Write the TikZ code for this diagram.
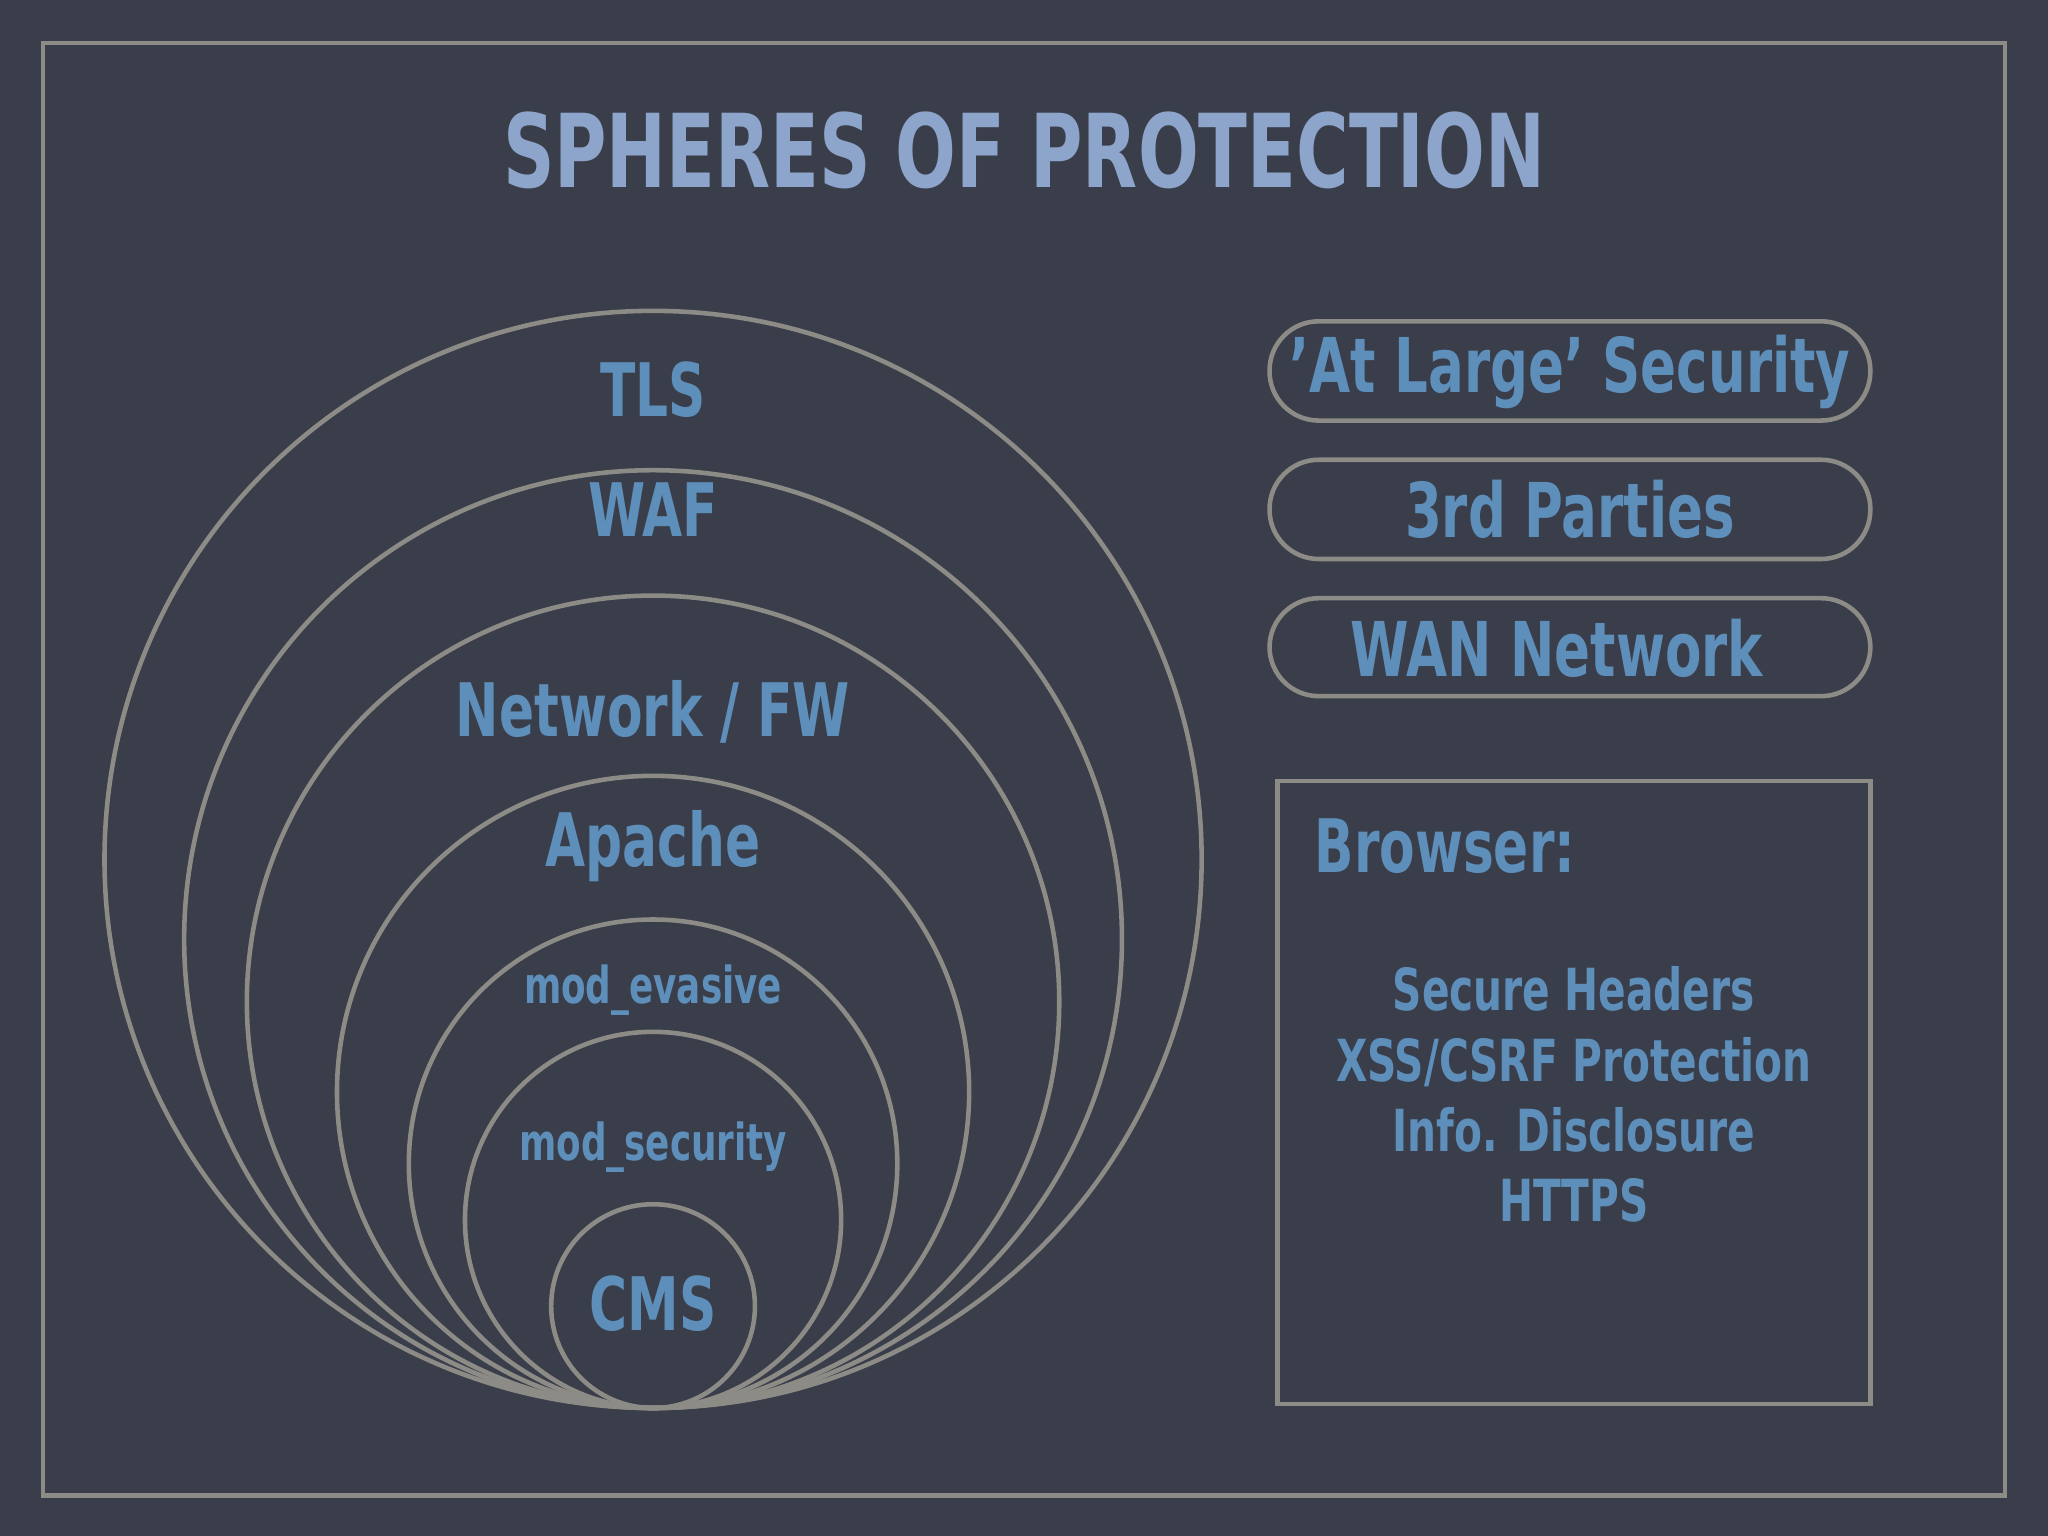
\documentclass[tikz,border=0pt]{standalone}
\usepackage{fontspec}
\setmainfont{DejaVu Sans Condensed}[FakeStretch=0.78]
\begin{document}
\begin{tikzpicture}[x=0.01306cm,y=-0.01306cm,
  ring/.style={draw=linegray,line width=1.3pt},
  lbl/.style={text=lblue,font=\bfseries},
  pill/.style={draw=linegray,line width=1.3pt,rounded corners=14pt}]
\definecolor{bg}{HTML}{3A3D4A}
\definecolor{linegray}{HTML}{8C8B86}
\definecolor{lblue}{HTML}{5E8FBA}
\definecolor{tblue}{HTML}{8DA5CB}
\fill[bg] (0,0) rectangle (1568,1176);
\useasboundingbox (0,0) rectangle (1568,1176);
\draw[ring] (33,33) rectangle (1535,1145);
\node[text=tblue,font=\bfseries\fontsize{29}{32}\selectfont] (title) at (784,115) {SPHERES OF PROTECTION};
\foreach \r/\n in {420/c1,359/c2,311/c3,242/c4,187/c5,144/c6,78/c7}
  \draw[ring] (500,1078-\r) circle (\r);
\node[lbl,font=\bfseries\fontsize{21}{24}\selectfont] (tls) at (500,298) {TLS};
\node[lbl,font=\bfseries\fontsize{21}{24}\selectfont] (waf) at (500,390) {WAF};
\node[lbl,font=\bfseries\fontsize{21}{24}\selectfont] (net) at (500,545) {Network / FW};
\node[lbl,font=\bfseries\fontsize{21}{24}\selectfont] (ap) at (500,648) {Apache};
\node[lbl,font=\bfseries\fontsize{14.5}{17}\selectfont] (ev) at (500,758) {mod\_evasive};
\node[lbl,font=\bfseries\fontsize{14.5}{17}\selectfont] (sec) at (500,878) {mod\_security};
\node[lbl,font=\bfseries\fontsize{21}{24}\selectfont] (cms) at (500,998) {CMS};
\draw[pill] (972,246) rectangle (1432,322);
\node[lbl,font=\bfseries\fontsize{21.5}{24}\selectfont] (b1) at (1202,285) {\char"27 At Large\char"27{} Security};
\draw[pill] (972,352) rectangle (1432,428);
\node[lbl,font=\bfseries\fontsize{21.5}{24}\selectfont] (b2) at (1202,390) {3rd Parties};
\draw[pill] (972,458) rectangle (1432,533);
\node[lbl,font=\bfseries\fontsize{21.5}{24}\selectfont] (b3) at (1192,496) {WAN Network};
\draw[ring] (978,598) rectangle (1432,1075);
\node[lbl,font=\bfseries\fontsize{21}{24}\selectfont,anchor=west] (br) at (997,648) {Browser:};
\node[lbl,font=\bfseries\fontsize{16.5}{20}\selectfont,align=center] (list) at (1205,838) {Secure Headers\\XSS/CSRF Protection\\Info. Disclosure\\HTTPS};
\end{tikzpicture}
\end{document}
